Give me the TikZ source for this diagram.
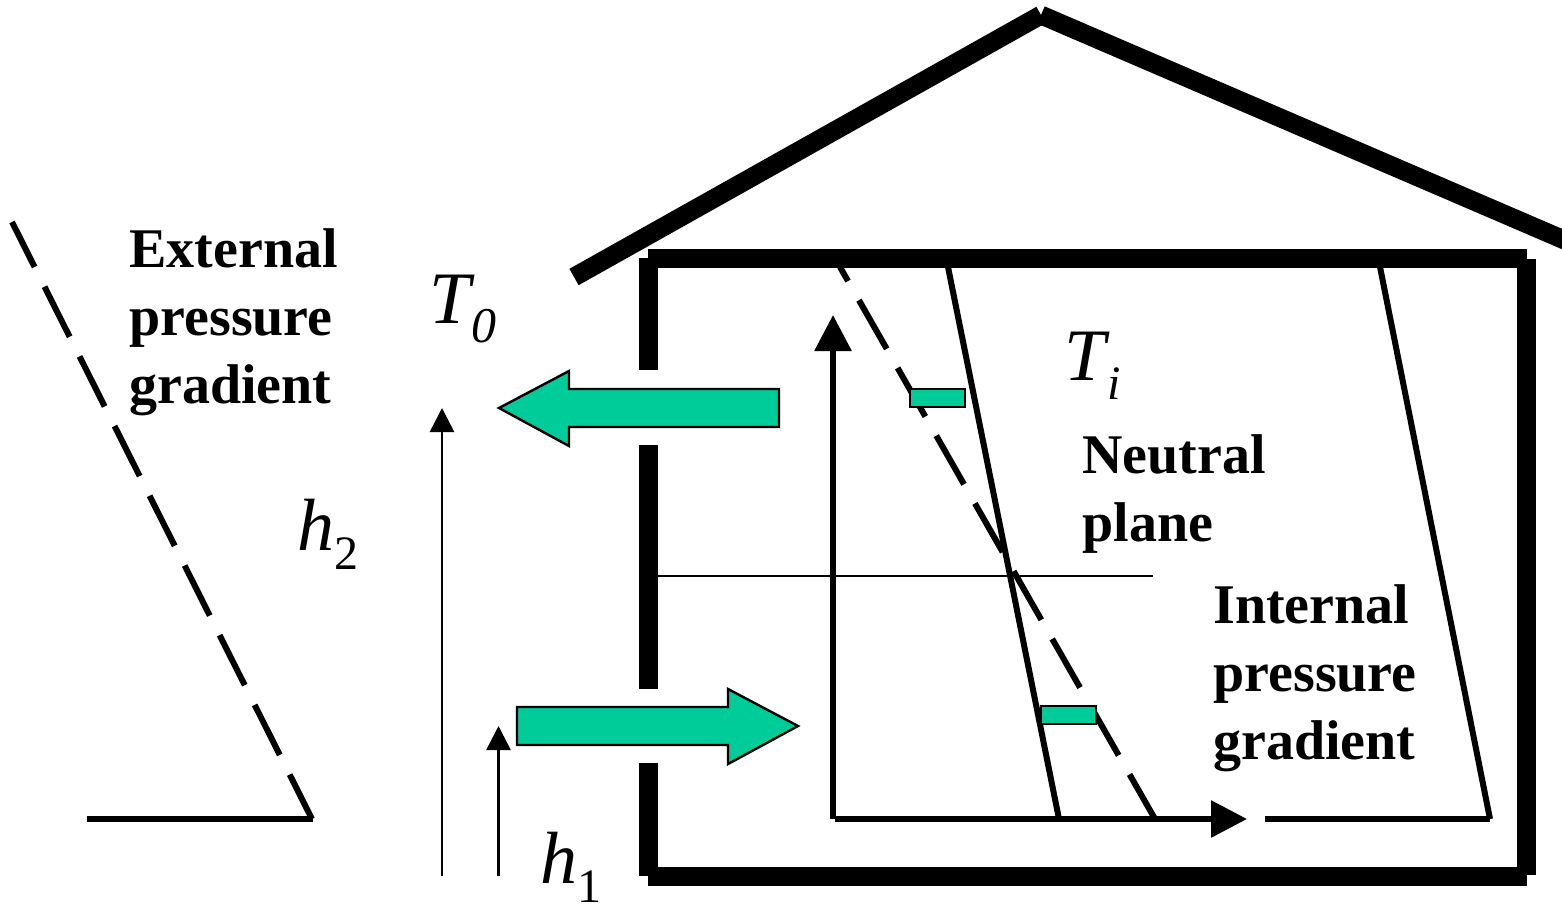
\documentclass[tikz,border=0pt]{standalone}
\usepackage{fontspec}
\setmainfont{Liberation Serif}
\usetikzlibrary{arrows.meta}
\definecolor{flow-green}{HTML}{00CC99}
\newcommand{\subtext}[4][24]{\textit{#2}\kern#4\raisebox{-0.26em}{\fontsize{#1}{#1}\selectfont #3}}
\tikzset{
  wall-line/.style={line width=9.5pt},
  roof-line/.style={line width=9.4pt},
  grad-line/.style={line width=3pt},
  grad-dash/.style={line width=3pt, dash pattern=on 28pt off 11pt},
  thin-arrow/.style={line width=1.3pt, -{Triangle[length=12pt,width=12pt]}},
  axis-arrow/.style={line width=3pt, -{Triangle[length=18pt,width=18pt]}},
  flow-shape/.style={draw, line width=1.2pt, fill=flow-green},
  label-text/.style={inner sep=0pt, align=left, anchor=base west,
    font=\fontsize{28}{34}\selectfont\bfseries},
  symbol-text/.style={inner sep=0pt, anchor=base west,
    font=\fontsize{37}{37}\selectfont}
}
\begin{document}
\begin{tikzpicture}[x=0.5pt, y=-0.5pt]
    \useasboundingbox (0,0) rectangle (1562,904);
    \clip (0,0) rectangle (1562,904);
    \draw[roof-line] (574,277) -- (1041,15);
    \draw[roof-line] (1041,15) -- (1572,243.3);
    \draw[wall-line] (648.7,258) -- (648.7,370);
    \draw[wall-line] (648.7,445) -- (648.7,689);
    \draw[wall-line] (648.7,763) -- (648.7,876);
    \draw[wall-line] (648,258.5) -- (1527,258.5);
    \draw[wall-line] (1526.5,259) -- (1526.5,875);
    \draw[wall-line] (648,876) -- (1527,876);
    \draw[grad-line] (948,267) -- (1059,819);
    \draw[grad-line] (1380,267) -- (1490,819);
    \draw[grad-line] (1265,819) -- (1490,819);
    \draw[grad-line] (87,819) -- (313,819);
    \draw[grad-dash, dash phase=19.9pt] (840,267) -- (1155,819);
    \draw[grad-dash, dash phase=2.8pt] (12,222) -- (312,819);
    \draw[line width=1.3pt] (658,576) -- (1153,576);
    \draw[thin-arrow] (442,876) -- (442,408);
    \draw[thin-arrow] (498.5,876) -- (498.5,726);
    \draw[axis-arrow] (833,819) -- (833,315);
    \draw[axis-arrow] (835,819) -- (1247,819);
    \draw[flow-shape] (499,408) -- (569,371) -- (569,389) -- (779,389) -- (779,427)
      -- (569,427) -- (569,446) -- cycle;
    \draw[flow-shape] (517,707) -- (728,707) -- (728,689) -- (798,726) -- (728,764)
      -- (728,745) -- (517,745) -- cycle;
    \draw[flow-shape] (910,389) rectangle (965,407);
    \draw[flow-shape] (1041,706) rectangle (1096,724);
    \node[label-text] (external) at (129,403.5) {External\\pressure\\gradient};
    \node[label-text] (neutral) at (1082,541) {Neutral\\plane};
    \node[label-text] (internal) at (1213,759) {Internal\\pressure\\gradient};
    \node[symbol-text] (tout) at (429,323) {\subtext[25]{T}{\textit{0}}{-1.5pt}};
    \node[symbol-text] (tin) at (1064,380) {\subtext{T}{\textit{i}}{-1pt}};
    \node[symbol-text] (htwo) at (297,550) {\subtext{h}{2}{0pt}};
    \node[symbol-text] (hone) at (540,883) {\subtext{h}{1}{0pt}};
  \end{tikzpicture}
\end{document}
